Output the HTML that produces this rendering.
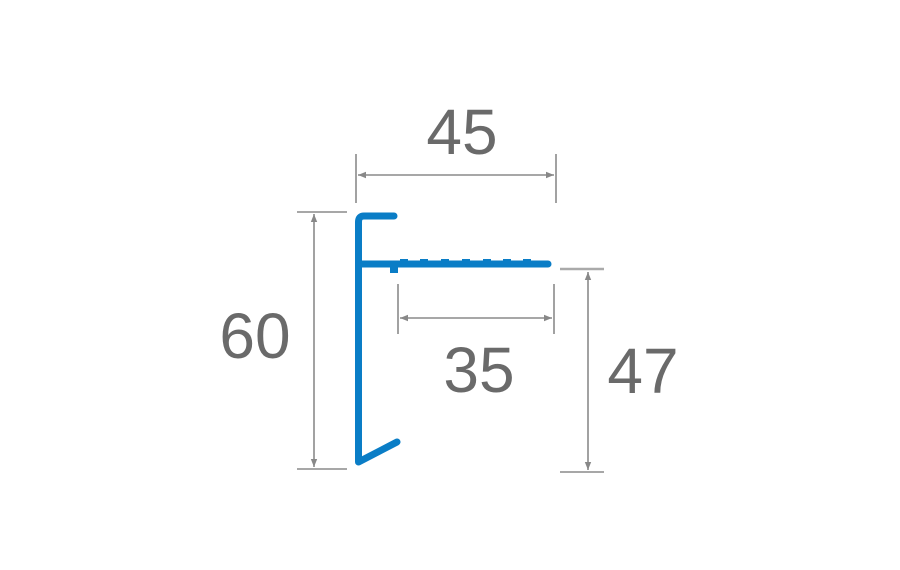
<!DOCTYPE html>
<html><head><meta charset="utf-8"><style>
html,body{margin:0;padding:0;background:#fff;width:900px;height:570px;overflow:hidden}
svg text{font-family:"Liberation Sans",sans-serif;fill:#6a6a6a;font-size:64px;font-weight:300}
</style></head><body>
<svg width="900" height="570" viewBox="0 0 900 570" xmlns="http://www.w3.org/2000/svg">
<defs>
<marker id="a" viewBox="0 0 10 10" refX="10" refY="5" markerWidth="10" markerHeight="8" orient="auto-start-reverse" markerUnits="userSpaceOnUse">
<path d="M0,1 L10,5 L0,9 z" fill="#888"/></marker>
</defs>
<g stroke="#8a8a8a" stroke-width="1.6" fill="none">
<!-- 45 -->
<line x1="356" y1="154" x2="356" y2="203"/>
<line x1="556" y1="154" x2="556" y2="203"/>
<line x1="358" y1="175" x2="554" y2="175" marker-start="url(#a)" marker-end="url(#a)"/>
<!-- 60 -->
<line x1="297" y1="212" x2="347" y2="212"/>
<line x1="297" y1="469" x2="347" y2="469"/>
<line x1="314" y1="214" x2="314" y2="467" marker-start="url(#a)" marker-end="url(#a)"/>
<!-- 35 -->
<line x1="398" y1="284" x2="398" y2="334"/>
<line x1="554" y1="284" x2="554" y2="334"/>
<line x1="400" y1="318" x2="552" y2="318" marker-start="url(#a)" marker-end="url(#a)"/>
<!-- 47 -->
<line x1="560" y1="269" x2="604" y2="269" stroke="#aaa" stroke-width="2.5"/>
<line x1="560" y1="472" x2="604" y2="472"/>
<line x1="588" y1="272" x2="588" y2="470" marker-start="url(#a)" marker-end="url(#a)"/>
</g>
<g stroke="#0a7dc6" stroke-width="7" fill="none" stroke-linecap="round" stroke-linejoin="round">
<path d="M394,216 L364,216 Q358.5,216 358.5,222 L358.5,462 L397,442"/>
<line x1="358.5" y1="264" x2="548" y2="264"/>
</g>
<g fill="#0a7dc6">
<rect x="390" y="264" width="8" height="9"/>
<rect x="400" y="259" width="8" height="4"/>
<rect x="420" y="259" width="8" height="4"/>
<rect x="441" y="259" width="8" height="4"/>
<rect x="462" y="259" width="8" height="4"/>
<rect x="483" y="259" width="8" height="4"/>
<rect x="503" y="259" width="8" height="4"/>
<rect x="523" y="259" width="8" height="4"/>
</g>
<text x="462" y="154" text-anchor="middle">45</text>
<text x="255" y="358" text-anchor="middle">60</text>
<text x="479" y="392" text-anchor="middle">35</text>
<text x="643" y="393" text-anchor="middle">47</text>
</svg>
</body></html>
